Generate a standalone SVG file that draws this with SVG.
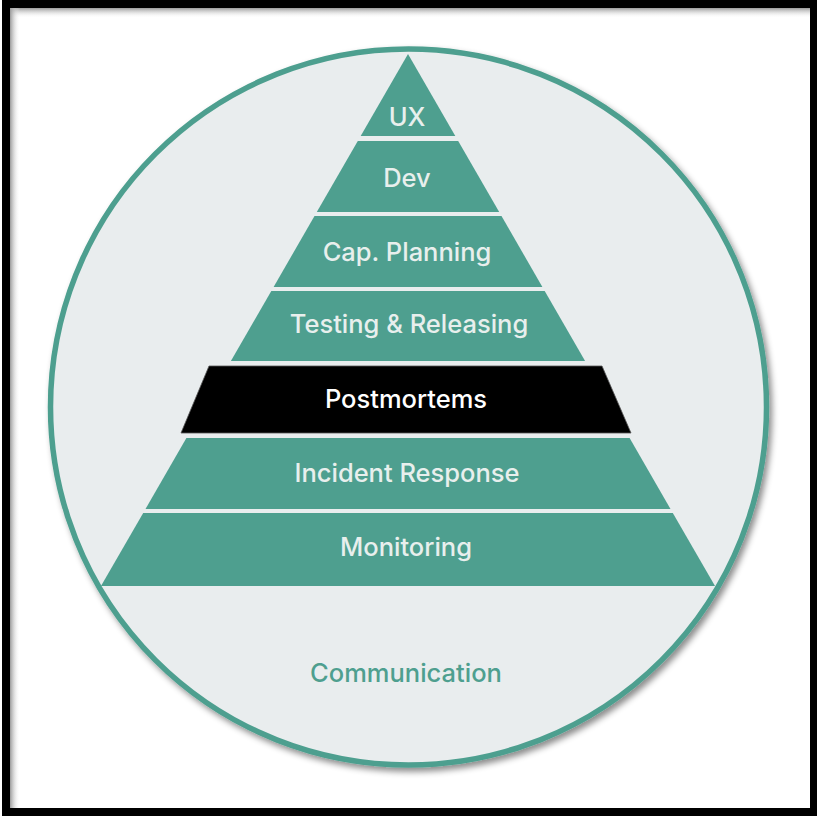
<svg xmlns="http://www.w3.org/2000/svg" width="817" height="816" viewBox="0 0 817 816">
  <defs>
    <style>
      .band { fill: #4e9f8f; }
      .lbl { font-family: Inter, "Noto Sans", "DejaVu Sans", sans-serif; font-size: 25.5px; font-weight: 500; fill: #e8efed; text-anchor: middle; }
      .comm { font-family: Inter, "Noto Sans", "DejaVu Sans", sans-serif; font-size: 25.5px; font-weight: 500; fill: #4e9f8f; text-anchor: middle; }
    </style>
    <linearGradient id="shTop" x1="0" y1="0" x2="0" y2="1">
      <stop offset="0" stop-color="#9a9a9a"/>
      <stop offset="1" stop-color="#ffffff" stop-opacity="0"/>
    </linearGradient>
    <linearGradient id="shLeft" x1="0" y1="0" x2="1" y2="0">
      <stop offset="0" stop-color="#9a9a9a"/>
      <stop offset="1" stop-color="#ffffff" stop-opacity="0"/>
    </linearGradient>
    <filter id="drop" x="-10%" y="-10%" width="125%" height="125%">
      <feDropShadow dx="3" dy="4" stdDeviation="3" flood-color="#000" flood-opacity="0.45"/>
    </filter>
  </defs>

  <!-- frame -->
  <rect x="0" y="0" width="817" height="816" fill="#ffffff"/>
  <rect x="10" y="8" width="800" height="10" fill="url(#shTop)"/>
  <rect x="10" y="8" width="10" height="800" fill="url(#shLeft)"/>
  <path d="M2,0 H817 V816 H2 Z M10,8 V808 H810 V8 Z" fill="#000" fill-rule="evenodd"/>

  <!-- outer circle -->
  <g id="communication">
    <circle cx="408.5" cy="407" r="358" fill="#e9edee" stroke="#4e9f8f" stroke-width="5.5" filter="url(#drop)"/>
    <text class="comm" x="406" y="682">Communication</text>
  </g>

  <g id="monitoring">
    <polygon class="band" points="143.2,513 672.8,513 715,586 101,586"/>
    <text class="lbl" x="406" y="556">Monitoring</text>
  </g>
  <g id="incident-response">
    <polygon class="band" points="186.4,438 629.6,438 670.5,509 145.5,509"/>
    <text class="lbl" x="407" y="482">Incident Response</text>
  </g>
  <g id="postmortems">
    <polygon points="209,366 602,366 631,433 181,433" fill="#000" stroke="#555" stroke-width="0.8"/>
    <text class="lbl" x="406" y="408" style="fill:#ffffff">Postmortems</text>
  </g>
  <g id="testing-releasing">
    <polygon class="band" points="271.3,291 544.7,291 585.1,361 230.9,361"/>
    <text class="lbl" x="409" y="333">Testing &amp; Releasing</text>
  </g>
  <g id="cap-planning">
    <polygon class="band" points="314.5,216 501.5,216 542.4,287 273.6,287"/>
    <text class="lbl" x="407" y="261">Cap. Planning</text>
  </g>
  <g id="dev">
    <polygon class="band" points="357.8,141 458.2,141 499.2,212 316.8,212"/>
    <text class="lbl" x="407" y="187">Dev</text>
  </g>
  <g id="ux">
    <polygon class="band" points="408,54 455.3,136 360.7,136"/>
    <text class="lbl" x="407" y="126">UX</text>
  </g>
</svg>
